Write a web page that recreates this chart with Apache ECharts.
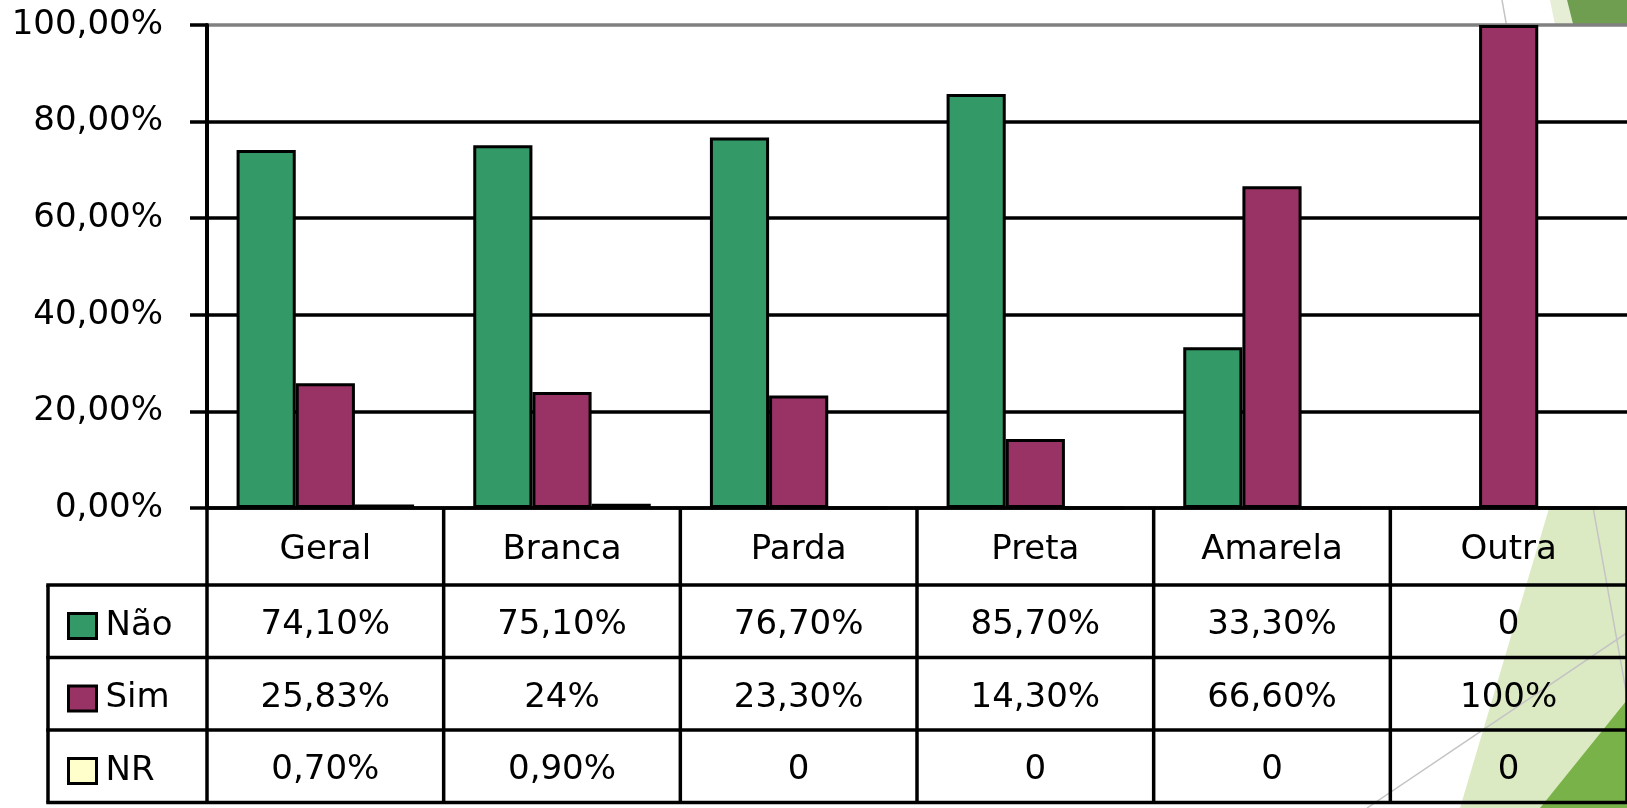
<!DOCTYPE html>
<html>
<head>
<meta charset="utf-8">
<script src="https://cdn.jsdelivr.net/npm/echarts@6/dist/echarts.min.js"></script>
<style>
html,body{margin:0;padding:0;background:#fff;}
#c{width:1627px;height:808px;}
</style>
</head>
<body>
<div id="c"></div>
<script>
const categories = ['Geral', 'Branca', 'Parda', 'Preta', 'Amarela', 'Outra'];
const seriesNames = ['Não', 'Sim', 'NR'];
const naoValues = [74.1, 75.1, 76.7, 85.7, 33.3, 0];
const simValues = [25.83, 24, 23.3, 14.3, 66.6, 100];
const nrValues = [0.7, 0.9, 0, 0, 0, 0];
const naoLabels = ['74,10%', '75,10%', '76,70%', '85,70%', '33,30%', '0'];
const simLabels = ['25,83%', '24%', '23,30%', '14,30%', '66,60%', '100%'];
const nrLabels = ['0,70%', '0,90%', '0', '0', '0', '0'];

const FONT = 'DejaVu Sans';
const FS = 34;
const catRowH = 77;
const rowH = 72.5;
const legendColLeft = 48;
const textNudge = 4;

const chart = echarts.init(document.getElementById('c'), null, {renderer: 'canvas'});

function rowAxis(labels, margin) {
  return {
    type: 'category', data: categories, position: 'bottom', gridIndex: 0,
    axisLine: {show: false}, axisTick: {show: false}, splitLine: {show: false},
    axisLabel: {
      show: true, interval: 0, margin: margin, verticalAlign: 'middle',
      color: '#000', fontFamily: FONT, fontSize: FS,
      formatter: (v, i) => labels[i]
    }
  };
}

const option = {
  animation: false,
  backgroundColor: '#fff',
  grid: {left: 207, top: 25, width: 1425, height: 483, containLabel: false},
  legend: {
    data: seriesNames, orient: 'vertical', left: 62, top: 601,
    itemWidth: 28, itemHeight: 25, itemGap: 32.5, icon: 'rect',
    itemStyle: {borderColor: '#000', borderWidth: 3},
    textStyle: {fontFamily: FONT, fontSize: FS, color: '#000', lineHeight: 40, padding: [0, 0, 0, 4]},
    selectedMode: false
  },
  xAxis: [
    {
      type: 'category', data: categories, position: 'bottom',
      axisLine: {show: true, onZero: true, lineStyle: {color: '#000', width: 3.5}},
      axisTick: {show: false},
      axisLabel: {interval: 0, margin: catRowH / 2 + textNudge, verticalAlign: 'middle', color: '#000', fontFamily: FONT, fontSize: FS},
      splitLine: {show: false}
    },
    rowAxis(naoLabels, catRowH + rowH * 0.5 + textNudge),
    rowAxis(simLabels, catRowH + rowH * 1.5 + textNudge),
    rowAxis(nrLabels, catRowH + rowH * 2.5 + textNudge)
  ],
  yAxis: {
    type: 'value', min: 0, max: 100, interval: 20,
    axisLine: {show: true, lineStyle: {color: '#000', width: 4}},
    axisTick: {show: true, length: 17, lineStyle: {color: '#000', width: 3.5}},
    axisLabel: {
      margin: 44, color: '#000', fontFamily: FONT, fontSize: FS,
      formatter: v => v.toFixed(2).replace('.', ',') + '%'
    },
    splitLine: {show: true, lineStyle: {color: ['#000', '#000', '#000', '#000', '#000', '#808080'], width: 3.5}}
  },
  series: [
    {name: seriesNames[0], type: 'bar', data: naoValues, barGap: '0%', barCategoryGap: '25%',
     itemStyle: {color: '#339966', borderColor: '#000', borderWidth: 3}},
    {name: seriesNames[1], type: 'bar', data: simValues, barGap: '0%', barCategoryGap: '25%',
     itemStyle: {color: '#993366', borderColor: '#000', borderWidth: 3}},
    {name: seriesNames[2], type: 'bar', data: nrValues, barGap: '0%', barCategoryGap: '25%',
     itemStyle: {color: '#FFFFCC', borderColor: '#000', borderWidth: 3}}
  ]
};
chart.setOption(option);

// Table lines and slide decoration, positioned from the axes' scales
const c0 = chart.convertToPixel({xAxisIndex: 0}, categories[0]);
const c1 = chart.convertToPixel({xAxisIndex: 0}, categories[1]);
const bw = c1 - c0;
const yZero = chart.convertToPixel({yAxisIndex: 0}, 0);
const yTop = chart.convertToPixel({yAxisIndex: 0}, 100);
const xLeft = c0 - bw / 2;
const xRight = xLeft + bw * categories.length;
const yEnd = yZero + catRowH + rowH * 3;

const els = [];
// decoration (behind)
els.push({type: 'polygon', z: -100, shape: {points: [[1550, 0], [1567, 0], [1582, 60], [1562, 60]]}, style: {fill: '#E6EFD6'}});
els.push({type: 'polygon', z: -100, shape: {points: [[1567, 0], [1640, 0], [1640, 60], [1582, 60]]}, style: {fill: '#709E51'}});
els.push({type: 'polygon', z: -99, shape: {points: [[1700, 0], [1460, 808], [1640, 808], [1640, 0]]}, style: {fill: '#DCEAC3'}});
els.push({type: 'polygon', z: -98, shape: {points: [[1627, 700], [1540, 808], [1640, 808], [1640, 700]]}, style: {fill: '#7AB24A'}});
els.push({type: 'line', z: -97, shape: {x1: 1502, y1: 0, x2: 1647, y2: 808}, style: {stroke: '#C4C4C4', lineWidth: 1.5}});
els.push({type: 'line', z: -97, shape: {x1: 1367, y1: 808, x2: 1640, y2: 624}, style: {stroke: '#C4C4C4', lineWidth: 1.5}});
// white plot area
els.push({type: 'rect', z: -50, shape: {x: xLeft, y: yTop, width: xRight - xLeft, height: yZero - yTop}, style: {fill: '#fff'}});
// table grid
const L = (x1, y1, x2, y2) => ({type: 'line', z: 10, shape: {x1, y1, x2, y2}, style: {stroke: '#000', lineWidth: 3.5}});
for (let i = 0; i <= categories.length; i++) {
  const x = xLeft + bw * i;
  els.push(L(x, yZero, x, yEnd));
}
els.push(L(legendColLeft, yZero + catRowH, legendColLeft, yEnd));
for (let r = 0; r <= 3; r++) {
  const y = yZero + catRowH + rowH * r;
  els.push(L(legendColLeft - 1.75, y, xRight, y));
}
chart.setOption({graphic: {elements: els}});
</script>
</body>
</html>
